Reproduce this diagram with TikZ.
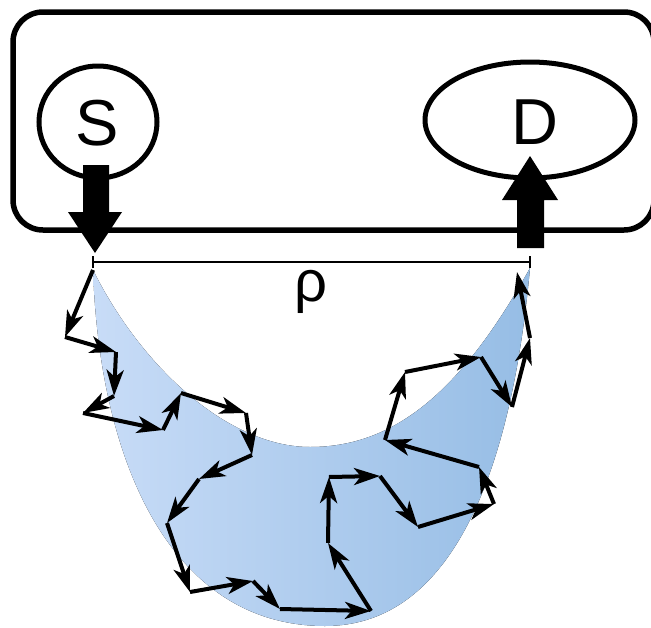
\documentclass[tikz,border=0pt]{standalone}
\usepackage{fontspec}
\setmainfont{Liberation Sans}
\usetikzlibrary{arrows.meta,shapes.geometric}
\definecolor{blueL}{RGB}{200,220,247}
\definecolor{blueR}{RGB}{150,189,229}
\tikzset{
  frame/.style={draw=black, line width=5.5pt, rounded corners=30pt},
  oval/.style={draw=black, line width=5pt, ellipse, inner sep=0pt},
  bigletter/.style={inner sep=0pt, font=\fontsize{65}{70}\selectfont},
  walk/.style={line width=4pt, -{Stealth[length=26pt,width=17pt,inset=7pt]}},
  fat/.style={fill=black, draw=none},
  bar/.style={line width=2.8pt}
}
\begin{document}
\begin{tikzpicture}[x=1pt,y=-1pt]
\useasboundingbox (0,0) rectangle (651,627);
\begin{scope}
\clip (0,0) rectangle (651,627);
% crescent
\fill[left color=blueL, right color=blueR]
  (93,270) .. controls (100,470) and (175,626) .. (325,626)
  .. controls (445,626) and (510,488) .. (530,268)
  .. controls (458,398) and (390,447) .. (310,447)
  .. controls (230,447) and (143,370) .. (93,270) -- cycle;
% frame
\node[frame, minimum width=641pt, minimum height=218pt] (box) at (333.5,121) {};
\end{scope}
\node[oval, minimum width=118pt, minimum height=112pt] (S) at (98,122) {};
\node[oval, minimum width=210pt, minimum height=116pt] (D) at (530,120) {};
\node[bigletter] (Sl) at (97.5,123) {S};
\node[bigletter] (Dl) at (535,122) {D};
% thick arrows
\fill[fat] (83,165) -- (109,165) -- (109,212) -- (122,212) -- (95,253) -- (68,212) -- (83,212) -- cycle;
\fill[fat] (517,248) -- (544,248) -- (544,200) -- (558,200) -- (530,156) -- (502,200) -- (517,200) -- cycle;
% rho bar
\coordinate (rl) at (93,262);
\coordinate (rr) at (530,262);
\draw[bar] (rl) -- (rr);
\draw[bar] ([yshift=-6pt]rl) -- ([yshift=6pt]rl);
\draw[bar] ([yshift=-6pt]rr) -- ([yshift=6pt]rr);
\node[inner sep=0pt, font=\fontsize{58}{64}\selectfont] (rho) at (311,292) {ρ};
% walk
\foreach \i/\p in {0/{93,270},1/{65,337},2/{116,352},3/{114,396},4/{83,413},5/{163,430},6/{181,393},7/{246,413},8/{252,455},9/{199,479},10/{167,523},11/{190,592},12/{253,581},13/{280,609},14/{371,611},15/{328,543},16/{329,477},17/{380,476},18/{418,527},19/{494,504},20/{479,467},21/{385,440},22/{405,372},23/{481,357},24/{512,407},25/{530,338},26/{517,272}}
  \coordinate (w\i) at (\p);
\foreach \i [evaluate=\i as \j using int(\i+1)] in {0,...,25}
  \draw[walk] (w\i) -- (w\j);
\end{tikzpicture}
\end{document}
